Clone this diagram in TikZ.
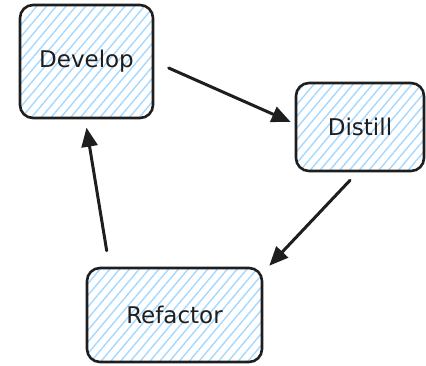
\documentclass[tikz,border=0pt]{standalone}
\usepackage{fontspec}
\setmainfont{DejaVu Sans}
\usetikzlibrary{arrows.meta,patterns.meta}

\definecolor{ink}{HTML}{1E1E1E}
\definecolor{hatch}{HTML}{A5D8FF}

\begin{document}
\begin{tikzpicture}[x=1pt, y=-1pt,
    stage/.style={draw=ink, line width=2.6pt, rounded corners=13pt,
      pattern={Lines[angle=50, distance=7.5pt, line width=1.4pt]},
      pattern color=hatch, text=ink, font=\fontsize{23}{26}\selectfont},
    flow/.style={draw=ink, line width=3pt, line cap=round,
      -{Triangle[length=19pt, width=16pt]}}]
  \useasboundingbox (0,0) rectangle (426,365);

  \node[stage, minimum width=133pt, minimum height=113pt] (develop) at (86.5,61.5) {Develop};
  \node[stage, minimum width=128pt, minimum height=88pt] (distill) at (360,127) {Distill};
  \node[stage, minimum width=175pt, minimum height=94pt] (refactor) at (174.5,315) {Refactor};

  \draw[flow] ([xshift=15pt, yshift=-6.5pt]develop.east) -- ([xshift=-4pt, yshift=5pt]distill.west);
  \draw[flow] ([xshift=-10pt, yshift=-8pt]distill.south) -- ([xshift=6pt, yshift=1pt]refactor.north east);
  \draw[flow] ([xshift=21pt, yshift=16pt]refactor.north west) -- ([yshift=-9pt]develop.south);
\end{tikzpicture}
\end{document}
